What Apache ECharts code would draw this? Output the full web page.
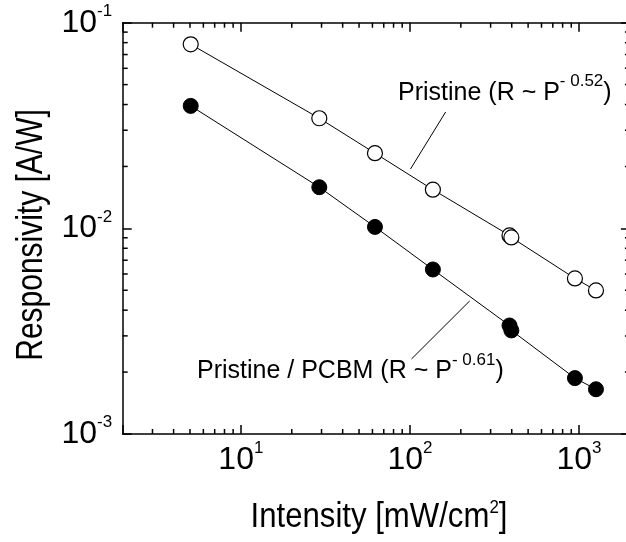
<!DOCTYPE html>
<html>
<head>
<meta charset="utf-8">
<script src="https://cdn.jsdelivr.net/npm/echarts@6/dist/echarts.min.js"></script>
<style>
  html, body { margin: 0; padding: 0; background: #fff; }
  #chart { width: 626px; height: 542px; }
</style>
</head>
<body>
<div id="chart"></div>
<script>
// Light intensity of each measurement [mW/cm^2]
const intensity = [5.05, 29.1, 62.1, 136.7, 388, 398, 946, 1260];
// Responsivity [A/W] of the two devices
const pristine = [0.0785, 0.0343, 0.0232, 0.01542, 0.00924, 0.00903, 0.00571, 0.00499];
const pristinePcbm = [0.0394, 0.01585, 0.01016, 0.00631, 0.00337, 0.00319, 0.00187, 0.00165];
// Axis ranges and the minor tick multiples inside each decade
const xRange = [2, 2000];
const yRange = [0.001, 0.1];
const minorMultiples = [2, 3, 4, 5, 6, 7, 8, 9];
// Annotation texts and their exponents
const fitLabels = [
  { text: 'Pristine (R ~ P', exponent: '- 0.52' },
  { text: 'Pristine / PCBM (R ~ P', exponent: '- 0.61' }
];

const FONT = "'Liberation Sans', Arial, sans-serif";
const INK = '#000';
const GRID = { left: 122.7, top: 22.7, width: 507.2, height: 411.3 };
const MAJOR_TICK = 9;
const MINOR_TICK = 5;
const stroke = () => ({ color: INK, width: 1.5 });

function decadeLabel(v) {
  const e = Math.log10(v);
  const r = Math.round(e);
  if (Math.abs(e - r) > 1e-6) return '';
  return '{b|10}{s|' + r + '}';
}

function tickRich() {
  return {
    b: { fontSize: 32, fontFamily: FONT, color: INK, lineHeight: 40 },
    s: { fontSize: 17, fontFamily: FONT, color: INK, lineHeight: 18, verticalAlign: 'top' }
  };
}

// frame axis with decade ticks (labels on bottom/left)
function frameAxis(position, range, labelMargin) {
  return {
    type: 'log', logBase: 10, min: range[0], max: range[1], position,
    axisLine: { show: true, onZero: false, lineStyle: stroke() },
    axisTick: { show: true, inside: true, length: MAJOR_TICK, lineStyle: stroke() },
    axisLabel: labelMargin != null
      ? { show: true, formatter: decadeLabel, rich: tickRich(), margin: labelMargin }
      : { show: false },
    splitLine: { show: false }
  };
}

// m * 10^k values strictly inside a range
function minorValues(range) {
  const out = [];
  for (let d = Math.floor(Math.log10(range[0])); d < Math.ceil(Math.log10(range[1])); d++) {
    minorMultiples.forEach(m => {
      const v = m * Math.pow(10, d);
      if (v > range[0] * 1.0001 && v < range[1] * 0.9999) out.push(v);
    });
  }
  return out;
}

const tickStyle = { stroke: INK, lineWidth: 1.5 };

// minor ticks along the bottom and top edges, one item per x value
function renderXMinor(params, api) {
  const v = api.value(0);
  const b = api.coord([v, yRange[0]]);
  const t = api.coord([v, yRange[1]]);
  return {
    type: 'group',
    children: [
      { type: 'line', shape: { x1: b[0], y1: b[1], x2: b[0], y2: b[1] - MINOR_TICK }, style: tickStyle },
      { type: 'line', shape: { x1: t[0], y1: t[1], x2: t[0], y2: t[1] + MINOR_TICK }, style: tickStyle }
    ]
  };
}

// minor ticks along the left and right edges, one item per y value
function renderYMinor(params, api) {
  const v = api.value(1);
  const l = api.coord([xRange[0], v]);
  const r = api.coord([xRange[1], v]);
  return {
    type: 'group',
    children: [
      { type: 'line', shape: { x1: l[0], y1: l[1], x2: l[0] + MINOR_TICK, y2: l[1] }, style: tickStyle },
      { type: 'line', shape: { x1: r[0], y1: r[1], x2: r[0] - MINOR_TICK, y2: r[1] }, style: tickStyle }
    ]
  };
}

const toPairs = ys => intensity.map((x, i) => [x, ys[i]]);

function fitText(label, left, top) {
  return {
    type: 'text', left, top, silent: true,
    style: {
      text: '{a|' + label.text + '}{s|' + label.exponent + '}{a|)}',
      rich: {
        a: { fontSize: 25, fontFamily: FONT, fill: INK, lineHeight: 28, padding: [12, 0, 0, 0] },
        s: { fontSize: 17, fontFamily: FONT, fill: INK, lineHeight: 18, verticalAlign: 'top' }
      }
    }
  };
}

const chart = echarts.init(document.getElementById('chart'), null, { renderer: 'canvas' });

chart.setOption({
  animation: false,
  grid: Object.assign({ outerBoundsMode: 'none' }, GRID),
  xAxis: [
    frameAxis('bottom', xRange, 6),
    frameAxis('top', xRange, null)
  ],
  yAxis: [
    frameAxis('left', yRange, 10.5),
    frameAxis('right', yRange, null)
  ],
  series: [
    {
      name: 'xMinorTicks',
      type: 'custom',
      xAxisIndex: 0, yAxisIndex: 0,
      silent: true, clip: false,
      data: minorValues(xRange).map(v => [v, yRange[0]]),
      renderItem: renderXMinor,
      z: 1
    },
    {
      name: 'yMinorTicks',
      type: 'custom',
      xAxisIndex: 0, yAxisIndex: 0,
      silent: true, clip: false,
      data: minorValues(yRange).map(v => [xRange[0], v]),
      renderItem: renderYMinor,
      z: 1
    },
    {
      name: 'Pristine',
      type: 'line',
      xAxisIndex: 0, yAxisIndex: 0,
      data: toPairs(pristine),
      symbol: 'circle', symbolSize: 15,
      itemStyle: { color: '#fff', borderColor: INK, borderWidth: 1.2 },
      lineStyle: { color: INK, width: 1 },
      z: 3,
      markLine: {
        silent: true, symbol: ['none', 'none'], label: { show: false },
        lineStyle: { color: INK, width: 1, type: 'solid' },
        data: [[{ coord: [100.8, 0.01944] }, { coord: [162.6, 0.0368] }]]
      }
    },
    {
      name: 'Pristine / PCBM',
      type: 'line',
      xAxisIndex: 0, yAxisIndex: 0,
      data: toPairs(pristinePcbm),
      symbol: 'circle', symbolSize: 15,
      itemStyle: { color: INK, borderColor: INK, borderWidth: 1 },
      lineStyle: { color: INK, width: 1 },
      z: 3,
      markLine: {
        silent: true, symbol: ['none', 'none'], label: { show: false },
        lineStyle: { color: INK, width: 1, type: 'solid' },
        data: [[{ coord: [225.6, 0.004436] }, { coord: [102.2, 0.002317] }]]
      }
    }
  ],
  graphic: [
    fitText(fitLabels[0], 398, 68.5),
    fitText(fitLabels[1], 197, 347),
    {
      // x-axis title, condensed horizontally
      type: 'text', x: 379, y: 517, scaleX: 0.89, silent: true,
      style: {
        text: '{t|Intensity [mW/cm}{u|2}{t|]}',
        align: 'center', verticalAlign: 'middle',
        rich: {
          t: { fontSize: 35, fontFamily: FONT, fill: INK, lineHeight: 38 },
          u: { fontSize: 19, fontFamily: FONT, fill: INK, lineHeight: 20, verticalAlign: 'top' }
        }
      }
    },
    {
      // y-axis title, rotated and condensed along its length
      type: 'text', x: 32, y: 235, rotation: Math.PI / 2, scaleX: 0.81, silent: true,
      style: {
        text: 'Responsivity [A/W]',
        fontSize: 37, fontFamily: FONT, fill: INK,
        align: 'center', verticalAlign: 'middle'
      }
    }
  ]
});
</script>
</body>
</html>
